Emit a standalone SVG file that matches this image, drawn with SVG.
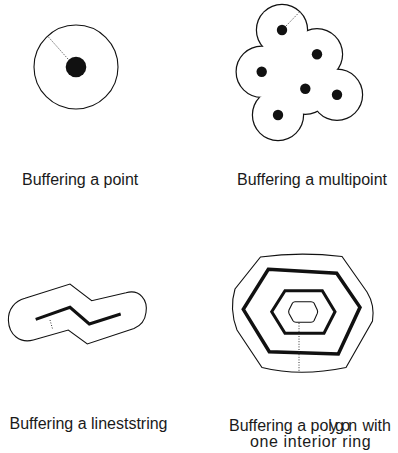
<svg xmlns="http://www.w3.org/2000/svg" width="398" height="453" viewBox="0 0 398 453">
<style>
.lbl{font-family:"Liberation Sans",Arial,sans-serif;font-size:16px;fill:#1a1a1a}
.thin{fill:none;stroke:#111;stroke-width:1.1}
.thick{fill:none;stroke:#111;stroke-linejoin:miter}
.dot{fill:#111}
.dash{fill:none;stroke:#333;stroke-width:1;stroke-dasharray:1 1.6}
.buf{fill:none;stroke:#111;stroke-width:2.4}
.bufw{fill:#fff;stroke:none}
</style>
<g id="point">
  <circle class="thin" cx="76" cy="67" r="42"/>
  <line class="dash" x1="68" y1="59" x2="48" y2="36.5"/>
  <circle class="dot" cx="76" cy="67" r="10.3"/>
  <text class="lbl" x="22" y="185">Buffering a point</text>
</g>
<g id="multipoint">
  <g>
    <circle class="buf" cx="282" cy="30" r="25"/>
    <circle class="buf" cx="317" cy="54.3" r="25"/>
    <circle class="buf" cx="261.7" cy="71.8" r="25"/>
    <circle class="buf" cx="305.3" cy="88.7" r="25"/>
    <circle class="buf" cx="337" cy="94.7" r="25"/>
    <circle class="buf" cx="278" cy="115" r="25"/>
  </g>
  <g>
    <circle class="bufw" cx="282" cy="30" r="25"/>
    <circle class="bufw" cx="317" cy="54.3" r="25"/>
    <circle class="bufw" cx="261.7" cy="71.8" r="25"/>
    <circle class="bufw" cx="305.3" cy="88.7" r="25"/>
    <circle class="bufw" cx="337" cy="94.7" r="25"/>
    <circle class="bufw" cx="278" cy="115" r="25"/>
    <polygon class="bufw" points="282,30 317,54.3 337,94.7 278,115 261.7,71.8"/>
  </g>
  <line class="dash" x1="286" y1="26" x2="299.5" y2="12"/>
  <circle class="dot" cx="282" cy="30" r="5.2"/>
  <circle class="dot" cx="317" cy="54.3" r="5.2"/>
  <circle class="dot" cx="261.7" cy="71.8" r="5.2"/>
  <circle class="dot" cx="305.3" cy="88.7" r="5.2"/>
  <circle class="dot" cx="337" cy="94.7" r="5.2"/>
  <circle class="dot" cx="278" cy="115" r="5.2"/>
  <text class="lbl" x="237" y="185">Buffering a multipoint</text>
</g>
<g id="linestring">
  <path class="thin" d="M25,298.3 L70,284 L91.7,300.7 L126,292.7 C140,289 148,300 146,312.5 C145,321 140,326 134,328.5 L87.3,344 L68.3,330 L33.3,340 C20,343.5 9,335 8.4,320.5 C8,309 15,301 25,298.3 Z"/>
  <polyline class="thick" stroke-width="3" points="35.7,319.3 70,307.3 89.3,324 120.7,314"/>
  <line class="dash" x1="50" y1="320" x2="52.7" y2="329.5"/>
  <text class="lbl" x="9.5" y="429">Buffering a lineststring</text>
</g>
<g id="polygon">
  <path class="thin" d="M260.5,257 Q300,251.5 342,256.5 L367,292 Q375,305 372.5,321 L346,367.5 Q300,377 262,367.5 L237,330 Q229,309 235,289 Z"/>
  <polygon class="thick" stroke-width="3.5" points="268.3,269.3 336.7,273.3 360,307.3 338.3,354 269.3,351.7 243.3,309.3"/>
  <polygon class="thick" stroke-width="3" points="285,290.7 322.3,290.7 335,311.7 324,333.3 285,333.3 271.7,311.7"/>
  <path class="thin" d="M295,301.7 L311,301.7 Q313,301.7 314,303 L317.3,310 Q318,311.7 317.3,313.4 L314,320.8 Q313,322.3 311,322.3 L296,322.3 Q294,322.3 293,320.8 L289,313.4 Q288.3,311.7 289,310 L292.5,303 Q293.5,301.7 295,301.7 Z"/>
  <line class="dash" x1="299" y1="323" x2="299" y2="372"/>
  <text class="lbl" x="229" y="431">Buffering a po<tspan dx="0 -2.5 -2.5 -2.5 -2">lygon</tspan><tspan x="358"> with</tspan></text>
  <text class="lbl" x="250" y="446.5" letter-spacing="0.6">one interior ring</text>
</g>
</svg>
